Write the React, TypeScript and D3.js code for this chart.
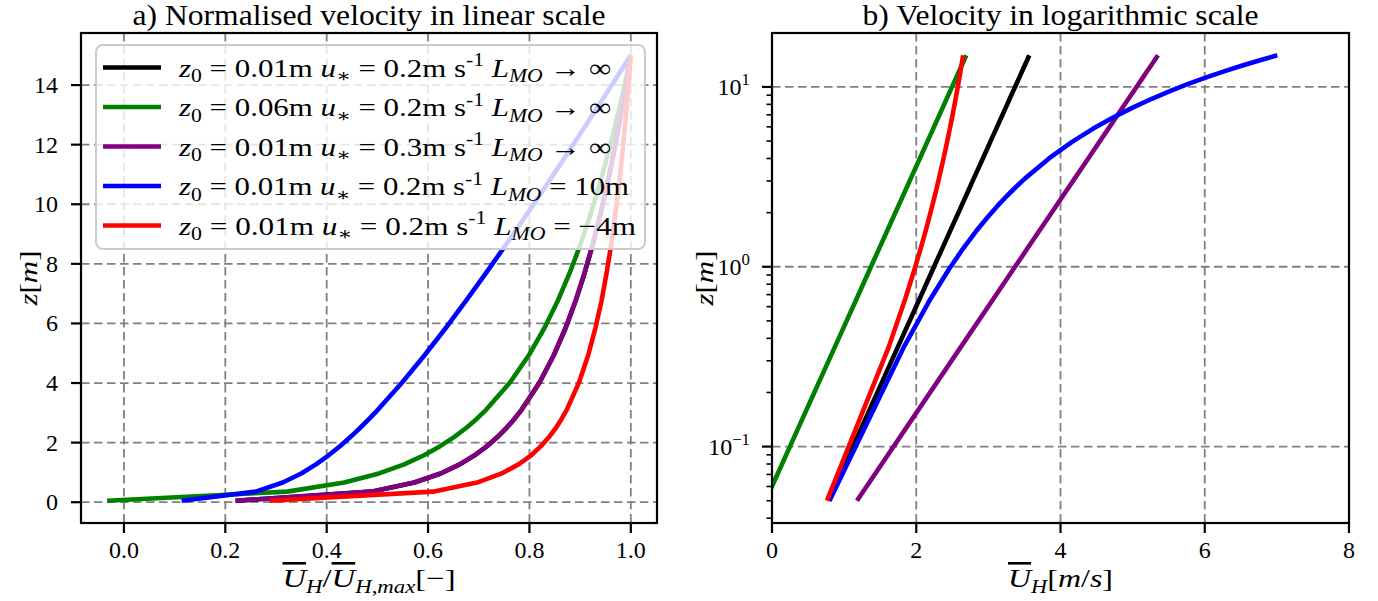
import React from 'react';
import * as d3 from 'd3';

// heights z [m]
const Z = [0.05, 0.3551, 0.6602, 0.9653, 1.2704, 1.5755, 1.8806, 2.1857, 2.4908, 2.7959, 3.101, 4.0163, 4.9316, 5.8469, 6.7622, 7.6776, 8.5929, 9.5082, 10.4235, 11.3388, 12.2541, 13.1694, 14.0847, 15.0];

// mean velocity U_H [m/s] for each profile
const U_BLACK = [0.785, 1.741, 2.044, 2.229, 2.363, 2.468, 2.555, 2.628, 2.692, 2.748, 2.798, 2.925, 3.025, 3.108, 3.179, 3.241, 3.296, 3.345, 3.39, 3.431, 3.469, 3.504, 3.537, 3.567];
const U_GREEN = [-0.089, 0.867, 1.17, 1.355, 1.489, 1.594, 1.68, 1.754, 1.818, 1.874, 1.924, 2.051, 2.151, 2.234, 2.305, 2.367, 2.422, 2.471, 2.516, 2.557, 2.595, 2.63, 2.663, 2.693];
const U_PURPLE = [1.178, 2.612, 3.066, 3.344, 3.545, 3.702, 3.832, 3.942, 4.037, 4.122, 4.198, 4.387, 4.537, 4.662, 4.768, 4.861, 4.943, 5.018, 5.085, 5.146, 5.203, 5.256, 5.305, 5.351];
const U_BLUE = [0.797, 1.823, 2.195, 2.451, 2.654, 2.829, 2.986, 3.129, 3.263, 3.389, 3.509, 3.845, 4.155, 4.448, 4.729, 5.001, 5.266, 5.525, 5.78, 6.031, 6.278, 6.523, 6.766, 7.006];
const U_RED = [0.762, 1.615, 1.846, 1.975, 2.063, 2.129, 2.18, 2.222, 2.258, 2.288, 2.315, 2.379, 2.427, 2.465, 2.497, 2.523, 2.546, 2.566, 2.584, 2.6, 2.614, 2.627, 2.639, 2.65];

const COLORS = ['#000000', '#008000', '#800080', '#0000ff', '#ff0000'];
const LEG_Z0 = ['0.01', '0.06', '0.01', '0.01', '0.01'];
const LEG_US = ['0.2', '0.2', '0.3', '0.2', '0.2'];
const LEG_L = ['\u2192 \u221E', '\u2192 \u221E', '\u2192 \u221E', '= 10m', '= \u22124m'];
const LEG_LEN = [432, 432, 432, 450, 457];

const X_TICKS_A = [0, 0.2, 0.4, 0.6, 0.8, 1.0];
const Y_TICKS_A = [0, 2, 4, 6, 8, 10, 12, 14];
const X_TICKS_B = [0, 2, 4, 6, 8];
const Y_TICKS_B = [0.1, 1, 10];
const Y_TICK_B_EXP = ['\u22121', '0', '1'];

const TITLE_A = 'a) Normalised velocity in linear scale';
const TITLE_B = 'b) Velocity in logarithmic scale';

const W = 1378;
const H = 601;
const FONT = "'Liberation Serif', 'DejaVu Serif', serif";
const GRID = '#808080';

type Seg = { t: string; i?: boolean; s?: 'sub' | 'sup'; o?: boolean };

function MText(props: { x: number; y: number; segs: Seg[]; size: number; anchor?: string; transform?: string; len?: number }) {
  const { x, y, segs, size, anchor, transform, len } = props;
  let cur = 0;
  const parts = segs.map((sg, k) => {
    const want = sg.s === 'sub' ? size * 0.22 : sg.s === 'sup' ? -size * 0.4 : 0;
    const dy = want - cur;
    cur = want;
    return (
      <tspan
        key={k}
        dy={dy}
        fontStyle={sg.i ? 'italic' : 'normal'}
        fontSize={sg.s ? size * 0.7 : size}
        style={sg.o ? { textDecoration: 'overline' } : undefined}
      >
        {sg.t}
      </tspan>
    );
  });
  const extra: any = len ? { textLength: len, lengthAdjust: 'spacingAndGlyphs' } : {};
  return (
    <text x={x} y={y} fontFamily={FONT} fontSize={size} textAnchor={anchor || 'start'} transform={transform} fill="#000" {...extra}>
      {parts}
    </text>
  );
}

export default function App() {
  const series = [U_BLACK, U_GREEN, U_PURPLE, U_BLUE, U_RED];

  // panel a
  const aL = 81, aR = 657, top = 33, bot = 523;
  const allNorm = series.flatMap((u) => u.map((v) => v / u[u.length - 1]));
  const nMin = d3.min(allNorm) as number;
  const nMax = d3.max(allNorm) as number;
  const padX = (nMax - nMin) * 0.05;
  const xA = d3.scaleLinear().domain([nMin - padX, nMax + padX]).range([aL, aR]);
  const zMin = d3.min(Z) as number;
  const zMax = d3.max(Z) as number;
  const padZ = (zMax - zMin) * 0.05;
  const yA = d3.scaleLinear().domain([zMin - padZ, zMax + padZ]).range([bot, top]);

  // panel b
  const bL = 772, bR = 1349;
  const xB = d3.scaleLinear().domain([0, 8]).range([bL, bR]);
  const lz0 = Math.log10(zMin), lz1 = Math.log10(zMax);
  const lpad = (lz1 - lz0) * 0.05;
  const yB = d3.scaleLog().domain([Math.pow(10, lz0 - lpad), Math.pow(10, lz1 + lpad)]).range([bot, top]);
  const minorB: number[] = [];
  [0.01, 0.1, 1, 10].forEach((d) => {
    for (let m = 2; m <= 9; m++) {
      const v = d * m;
      const [lo, hi] = yB.domain();
      if (v > lo && v < hi) minorB.push(v);
    }
  });

  const lineA = (u: number[]) =>
    d3.line<number>().x((v) => xA(v / u[u.length - 1])).y((_, i) => yA(Z[i]))(u) as string;
  const lineB = (u: number[]) =>
    d3.line<number>().x((v) => xB(v)).y((_, i) => yB(Z[i]))(u) as string;

  const LW = 4.6;
  const tickSize = 24;
  const dash = '8.5,4.5';

  const legX = 96, legY = 45, legW = 549, legH = 204;
  const rowY0 = 67.5, rowStep = 39.5;

  return (
    <svg width={W} height={H} style={{ position: 'absolute', left: 0, top: 0, background: '#fff' }}>
      <defs>
        <clipPath id="clipA">
          <rect x={aL} y={top} width={aR - aL} height={bot - top} />
        </clipPath>
        <clipPath id="clipB">
          <rect x={bL} y={top} width={bR - bL} height={bot - top} />
        </clipPath>
      </defs>
      <rect x={0} y={0} width={W} height={H} fill="#fff" />

      {/* ---------- Panel a ---------- */}
      <g>
        {X_TICKS_A.map((t) => (
          <line key={'gx' + t} x1={xA(t)} x2={xA(t)} y1={top} y2={bot} stroke={GRID} strokeWidth={1.8} strokeDasharray={dash} />
        ))}
        {Y_TICKS_A.map((t) => (
          <line key={'gy' + t} x1={aL} x2={aR} y1={yA(t)} y2={yA(t)} stroke={GRID} strokeWidth={1.8} strokeDasharray={dash} />
        ))}
        <g clipPath="url(#clipA)">
          {series.map((u, k) => (
            <path key={k} d={lineA(u)} fill="none" stroke={COLORS[k]} strokeWidth={LW} strokeLinejoin="round" />
          ))}
        </g>
        <rect x={aL} y={top} width={aR - aL} height={bot - top} fill="none" stroke="#000" strokeWidth={2.2} />
        {X_TICKS_A.map((t) => (
          <g key={'tx' + t}>
            <line x1={xA(t)} x2={xA(t)} y1={bot} y2={bot + 10} stroke="#000" strokeWidth={2.2} />
            <text x={xA(t)} y={bot + 35} textAnchor="middle" fontFamily={FONT} fontSize={tickSize}>
              {t.toFixed(1)}
            </text>
          </g>
        ))}
        {Y_TICKS_A.map((t) => (
          <g key={'ty' + t}>
            <line x1={aL - 10} x2={aL} y1={yA(t)} y2={yA(t)} stroke="#000" strokeWidth={2.2} />
            <text x={aL - 23} y={yA(t) + 8} textAnchor="end" fontFamily={FONT} fontSize={tickSize}>
              {t}
            </text>
          </g>
        ))}
        <text x={(aL + aR) / 2} y={25} textAnchor="middle" fontFamily={FONT} fontSize={29} textLength={473} lengthAdjust="spacingAndGlyphs">
          {TITLE_A}
        </text>
        <MText
          x={(aL + aR) / 2}
          y={587}
          size={26}
          anchor="middle"
          len={173}
          segs={[
            { t: 'U', i: true, o: true },
            { t: 'H', i: true, s: 'sub' },
            { t: '/' },
            { t: 'U', i: true, o: true },
            { t: 'H', i: true, s: 'sub' },
            { t: ',', s: 'sub' },
            { t: 'max', i: true, s: 'sub' },
            { t: '[\u2212]' },
          ]}
        />
        <MText
          x={0}
          y={0}
          size={26}
          anchor="middle"
          len={55}
          transform={`translate(37,${(top + bot) / 2}) rotate(-90)`}
          segs={[{ t: 'z', i: true }, { t: '[' }, { t: 'm', i: true }, { t: ']' }]}
        />

        {/* legend */}
        <rect x={legX} y={legY} width={legW} height={legH} rx={7} ry={7} fill="#fff" fillOpacity={0.8} stroke="#cccccc" strokeWidth={2} />
        {COLORS.map((c, k) => {
          const ry = rowY0 + k * rowStep;
          return (
            <g key={'lg' + k}>
              <line x1={103} x2={161} y1={ry} y2={ry} stroke={c} strokeWidth={LW} />
              <MText
                x={179}
                y={ry + 9}
                size={26}
                len={LEG_LEN[k]}
                segs={[
                  { t: 'z', i: true },
                  { t: '0', s: 'sub' },
                  { t: ` = ${LEG_Z0[k]}m ` },
                  { t: 'u', i: true },
                  { t: '\u2217', s: 'sub' },
                  { t: ` = ${LEG_US[k]}m s` },
                  { t: '-1', s: 'sup' },
                  { t: ' ' },
                  { t: 'L', i: true },
                  { t: 'MO', i: true, s: 'sub' },
                  { t: ' ' + LEG_L[k] },
                ]}
              />
            </g>
          );
        })}
      </g>

      {/* ---------- Panel b ---------- */}
      <g>
        {X_TICKS_B.map((t) => (
          <line key={'bgx' + t} x1={xB(t)} x2={xB(t)} y1={top} y2={bot} stroke={GRID} strokeWidth={1.8} strokeDasharray={dash} />
        ))}
        {Y_TICKS_B.map((t) => (
          <line key={'bgy' + t} x1={bL} x2={bR} y1={yB(t)} y2={yB(t)} stroke={GRID} strokeWidth={1.8} strokeDasharray={dash} />
        ))}
        <g clipPath="url(#clipB)">
          {series.map((u, k) => (
            <path key={k} d={lineB(u)} fill="none" stroke={COLORS[k]} strokeWidth={LW} strokeLinejoin="round" />
          ))}
        </g>
        <rect x={bL} y={top} width={bR - bL} height={bot - top} fill="none" stroke="#000" strokeWidth={2.2} />
        {X_TICKS_B.map((t) => (
          <g key={'btx' + t}>
            <line x1={xB(t)} x2={xB(t)} y1={bot} y2={bot + 10} stroke="#000" strokeWidth={2.2} />
            <text x={xB(t)} y={bot + 35} textAnchor="middle" fontFamily={FONT} fontSize={tickSize}>
              {t}
            </text>
          </g>
        ))}
        {Y_TICKS_B.map((t, k) => (
          <g key={'bty' + t}>
            <line x1={bL - 10} x2={bL} y1={yB(t)} y2={yB(t)} stroke="#000" strokeWidth={2.2} />
            <MText
              x={bL - 22}
              y={yB(t) + 8}
              size={tickSize}
              anchor="end"
              segs={[{ t: '10' }, { t: Y_TICK_B_EXP[k], s: 'sup' }]}
            />
          </g>
        ))}
        {minorB.map((t) => (
          <line key={'bm' + t} x1={bL - 5.5} x2={bL} y1={yB(t)} y2={yB(t)} stroke="#000" strokeWidth={1.6} />
        ))}
        <text x={(bL + bR) / 2} y={25} textAnchor="middle" fontFamily={FONT} fontSize={29} textLength={396} lengthAdjust="spacingAndGlyphs">
          {TITLE_B}
        </text>
        <MText
          x={(bL + bR) / 2}
          y={587}
          size={26}
          anchor="middle"
          len={105}
          segs={[
            { t: 'U', i: true, o: true },
            { t: 'H', i: true, s: 'sub' },
            { t: '[' },
            { t: 'm', i: true },
            { t: '/' },
            { t: 's', i: true },
            { t: ']' },
          ]}
        />
        <MText
          x={0}
          y={0}
          size={26}
          anchor="middle"
          len={55}
          transform={`translate(713,${(top + bot) / 2}) rotate(-90)`}
          segs={[{ t: 'z', i: true }, { t: '[' }, { t: 'm', i: true }, { t: ']' }]}
        />
      </g>
    </svg>
  );
}
